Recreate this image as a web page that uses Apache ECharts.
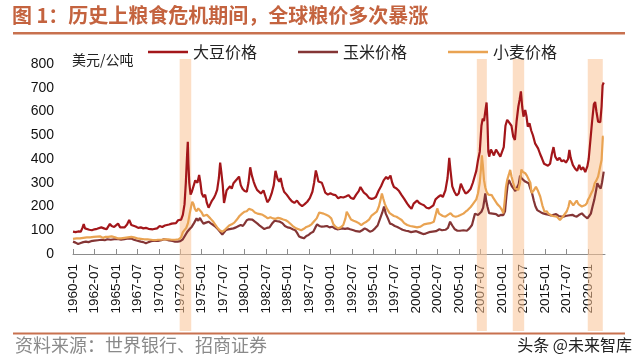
<!DOCTYPE html>
<html>
<head>
<meta charset="utf-8">
<script src="https://cdn.jsdelivr.net/npm/echarts@6/dist/echarts.min.js"></script>
<style>
html,body{margin:0;padding:0;background:#fff;}
#c{width:640px;height:364px;}
</style>
</head>
<body>
<div id="c"></div>
<script>
// ---- data (x = year as decimal, 1960.5 = 1960-07) ----
const seriesNames = ['大豆价格', '玉米价格', '小麦价格'];
const xTickLabels = ['1960-01','1962-07','1965-01','1967-07','1970-01','1972-07','1975-01','1977-07','1980-01','1982-07','1985-01','1987-07','1990-01','1992-07','1995-01','1997-07','2000-01','2002-07','2005-01','2007-07','2010-01','2012-07','2015-01','2017-07','2020-01'];
const yTicks = [0,100,200,300,400,500,600,700,800];
const crisisBands = [[1972.43,1973.78],[2007.06,2008.23],[2011.25,2012.58],[2019.99,2021.74]];

const soybean = [[1960.0,94],[1960.3,92],[1960.6,95],[1960.9,94],[1961.1,110],[1961.25,126],[1961.4,108],[1961.6,100],[1961.9,102],[1962.2,100],[1962.5,104],[1962.8,106],[1963.0,104],[1963.3,112],[1963.6,108],[1963.9,104],[1964.1,112],[1964.3,127],[1964.5,118],[1964.8,114],[1965.0,116],[1965.25,128],[1965.5,112],[1965.7,104],[1966.0,112],[1966.3,124],[1966.55,143],[1966.8,122],[1967.0,118],[1967.3,116],[1967.6,110],[1967.9,112],[1968.2,108],[1968.5,110],[1968.8,106],[1969.0,110],[1969.3,104],[1969.5,100],[1969.8,108],[1970.1,118],[1970.4,114],[1970.7,120],[1970.9,126],[1971.2,124],[1971.5,128],[1971.7,124],[1972.0,130],[1972.25,142],[1972.45,138],[1972.6,145],[1972.8,165],[1973.0,210],[1973.15,300],[1973.3,420],[1973.38,472],[1973.45,380],[1973.55,300],[1973.7,250],[1973.85,262],[1974.0,270],[1974.25,310],[1974.5,300],[1974.7,333],[1974.85,300],[1975.0,256],[1975.2,240],[1975.4,250],[1975.6,215],[1975.8,195],[1976.0,210],[1976.2,225],[1976.4,235],[1976.6,250],[1976.8,270],[1977.0,320],[1977.15,385],[1977.3,340],[1977.45,290],[1977.6,215],[1977.75,240],[1977.9,268],[1978.1,275],[1978.3,285],[1978.5,275],[1978.7,298],[1978.9,290],[1979.1,315],[1979.35,326],[1979.55,290],[1979.75,275],[1980.0,265],[1980.25,262],[1980.45,300],[1980.65,365],[1980.85,330],[1981.05,305],[1981.25,285],[1981.45,270],[1981.65,262],[1981.9,255],[1982.2,268],[1982.45,240],[1982.65,218],[1982.9,230],[1983.15,255],[1983.4,290],[1983.6,350],[1983.85,315],[1984.05,305],[1984.2,320],[1984.4,285],[1984.6,262],[1984.9,250],[1985.2,235],[1985.5,222],[1985.8,215],[1986.1,225],[1986.4,210],[1986.7,202],[1987.0,210],[1987.3,220],[1987.6,235],[1987.9,262],[1988.1,300],[1988.3,352],[1988.45,330],[1988.6,305],[1988.8,310],[1989.0,300],[1989.2,280],[1989.4,258],[1989.7,250],[1990.0,256],[1990.3,250],[1990.6,248],[1990.9,235],[1991.2,240],[1991.5,238],[1991.8,242],[1992.1,248],[1992.4,236],[1992.7,232],[1993.0,250],[1993.3,265],[1993.5,282],[1993.7,270],[1993.9,258],[1994.2,250],[1994.5,236],[1994.8,232],[1995.05,234],[1995.3,240],[1995.6,265],[1995.9,285],[1996.2,310],[1996.5,325],[1996.7,315],[1997.0,330],[1997.2,300],[1997.4,282],[1997.7,276],[1998.0,265],[1998.3,248],[1998.6,232],[1998.95,212],[1999.2,200],[1999.45,190],[1999.7,212],[2000.1,225],[2000.35,215],[2000.6,210],[2000.9,205],[2001.2,195],[2001.5,192],[2001.7,200],[2002.0,205],[2002.25,230],[2002.55,240],[2002.85,248],[2003.1,240],[2003.4,268],[2003.65,320],[2003.85,405],[2004.0,350],[2004.2,285],[2004.45,262],[2004.7,246],[2004.95,255],[2005.2,296],[2005.45,275],[2005.75,255],[2006.0,260],[2006.35,275],[2006.6,300],[2006.8,325],[2007.0,350],[2007.2,395],[2007.4,430],[2007.6,540],[2007.75,570],[2007.9,560],[2008.05,600],[2008.2,638],[2008.3,560],[2008.4,430],[2008.5,410],[2008.7,440],[2008.85,430],[2009.05,415],[2009.3,440],[2009.55,425],[2009.8,410],[2010.0,412],[2010.2,450],[2010.4,540],[2010.6,565],[2010.8,555],[2010.95,560],[2011.1,540],[2011.3,495],[2011.5,480],[2011.7,560],[2011.9,620],[2012.05,650],[2012.2,685],[2012.35,620],[2012.5,578],[2012.7,606],[2012.85,580],[2013.0,536],[2013.2,550],[2013.4,520],[2013.6,500],[2013.85,466],[2014.0,470],[2014.2,445],[2014.45,420],[2014.65,403],[2014.9,380],[2015.1,385],[2015.35,372],[2015.6,380],[2015.8,420],[2016.0,450],[2016.2,410],[2016.45,395],[2016.7,405],[2016.95,390],[2017.2,395],[2017.45,385],[2017.7,400],[2017.85,438],[2018.0,405],[2018.25,375],[2018.5,360],[2018.75,350],[2019.0,375],[2019.2,355],[2019.45,365],[2019.7,345],[2019.95,370],[2020.1,400],[2020.3,480],[2020.5,560],[2020.7,630],[2020.85,640],[2021.0,600],[2021.2,557],[2021.45,555],[2021.6,620],[2021.72,710],[2021.85,722]];

const maize = [[1960.0,52],[1960.3,48],[1960.6,42],[1960.9,46],[1961.2,50],[1961.5,52],[1961.8,50],[1962.1,54],[1962.5,56],[1962.9,58],[1963.3,60],[1963.7,58],[1964.0,62],[1964.4,60],[1964.8,62],[1965.2,63],[1965.6,60],[1966.0,62],[1966.4,66],[1966.8,65],[1967.1,60],[1967.5,56],[1967.9,52],[1968.2,50],[1968.5,45],[1968.8,50],[1969.1,54],[1969.5,56],[1969.9,55],[1970.3,58],[1970.6,62],[1970.9,60],[1971.2,57],[1971.6,55],[1971.9,52],[1972.2,52],[1972.5,54],[1972.8,62],[1973.1,80],[1973.35,95],[1973.6,105],[1973.85,115],[1974.1,130],[1974.4,150],[1974.6,140],[1974.8,152],[1975.0,138],[1975.2,128],[1975.5,132],[1975.8,136],[1976.1,128],[1976.35,122],[1976.6,115],[1976.9,104],[1977.1,100],[1977.4,82],[1977.6,90],[1977.8,100],[1978.1,104],[1978.4,106],[1978.7,108],[1979.0,112],[1979.3,118],[1979.55,122],[1979.8,118],[1980.0,128],[1980.25,142],[1980.5,146],[1980.7,152],[1980.9,145],[1981.2,136],[1981.5,128],[1981.8,118],[1982.0,112],[1982.3,105],[1982.6,110],[1982.9,112],[1983.2,128],[1983.5,140],[1983.8,138],[1984.1,136],[1984.4,130],[1984.7,118],[1985.0,112],[1985.3,110],[1985.6,104],[1985.9,100],[1986.1,90],[1986.35,74],[1986.6,70],[1986.9,66],[1987.2,76],[1987.45,80],[1987.7,88],[1988.0,94],[1988.25,112],[1988.45,125],[1988.7,118],[1989.0,115],[1989.3,116],[1989.6,118],[1989.9,112],[1990.2,115],[1990.5,108],[1990.8,104],[1991.1,106],[1991.4,108],[1991.7,106],[1992.0,108],[1992.3,104],[1992.7,100],[1993.0,96],[1993.4,94],[1993.7,100],[1994.0,108],[1994.3,102],[1994.6,94],[1994.9,98],[1995.2,108],[1995.5,120],[1995.8,150],[1996.05,175],[1996.25,200],[1996.45,170],[1996.7,150],[1996.95,128],[1997.2,125],[1997.5,118],[1997.8,114],[1998.1,108],[1998.4,102],[1998.8,98],[1999.1,96],[1999.4,92],[1999.7,94],[2000.0,96],[2000.4,90],[2000.8,84],[2001.1,86],[2001.5,92],[2001.9,94],[2002.3,96],[2002.7,104],[2003.0,100],[2003.4,102],[2003.7,110],[2003.95,136],[2004.2,120],[2004.5,104],[2004.8,98],[2005.1,98],[2005.5,100],[2005.9,98],[2006.2,108],[2006.5,122],[2006.7,150],[2006.85,170],[2007.0,165],[2007.2,164],[2007.4,172],[2007.6,178],[2007.8,195],[2007.95,230],[2008.05,255],[2008.15,225],[2008.3,200],[2008.5,172],[2008.7,164],[2008.9,170],[2009.1,175],[2009.3,168],[2009.6,160],[2009.9,165],[2010.15,164],[2010.35,180],[2010.5,240],[2010.65,290],[2010.8,312],[2010.95,300],[2011.15,285],[2011.35,276],[2011.55,265],[2011.75,262],[2011.95,295],[2012.1,330],[2012.3,318],[2012.5,311],[2012.7,305],[2012.9,300],[2013.1,298],[2013.3,275],[2013.5,256],[2013.7,225],[2013.9,200],[2014.1,185],[2014.3,178],[2014.55,175],[2014.8,171],[2015.1,168],[2015.4,165],[2015.7,162],[2016.0,165],[2016.3,168],[2016.6,160],[2016.9,158],[2017.15,157],[2017.4,160],[2017.7,162],[2017.9,164],[2018.2,165],[2018.45,160],[2018.7,157],[2018.95,164],[2019.3,171],[2019.6,160],[2019.8,155],[2019.95,150],[2020.15,160],[2020.35,170],[2020.55,200],[2020.75,228],[2020.95,265],[2021.1,298],[2021.3,285],[2021.5,276],[2021.65,300],[2021.85,347]];

const wheat = [[1960.0,64],[1960.4,66],[1960.8,66],[1961.2,68],[1961.6,70],[1962.0,70],[1962.4,72],[1962.8,73],[1963.2,74],[1963.5,68],[1963.8,72],[1964.1,72],[1964.5,74],[1964.9,70],[1965.2,66],[1965.6,66],[1966.0,68],[1966.4,70],[1966.8,72],[1967.1,70],[1967.5,66],[1967.9,64],[1968.3,62],[1968.7,62],[1969.1,60],[1969.5,58],[1969.9,60],[1970.3,60],[1970.7,62],[1971.1,62],[1971.5,60],[1971.9,60],[1972.3,62],[1972.6,70],[1972.8,92],[1973.0,100],[1973.2,110],[1973.4,130],[1973.6,170],[1973.8,205],[1973.9,220],[1974.05,210],[1974.2,190],[1974.4,180],[1974.6,192],[1974.8,200],[1975.0,175],[1975.2,160],[1975.4,158],[1975.6,165],[1975.8,160],[1976.0,150],[1976.3,138],[1976.55,125],[1976.8,112],[1977.1,100],[1977.4,94],[1977.7,102],[1977.9,110],[1978.2,120],[1978.5,125],[1978.8,132],[1979.1,145],[1979.4,160],[1979.7,170],[1980.0,178],[1980.25,180],[1980.5,190],[1980.7,195],[1980.9,185],[1981.2,175],[1981.5,170],[1981.8,168],[1982.1,165],[1982.4,158],[1982.7,150],[1983.0,155],[1983.3,150],[1983.6,148],[1983.9,152],[1984.15,150],[1984.5,145],[1984.8,142],[1985.1,135],[1985.4,125],[1985.7,115],[1986.0,108],[1986.3,104],[1986.6,100],[1986.9,106],[1987.2,114],[1987.5,118],[1987.8,125],[1988.1,138],[1988.4,150],[1988.7,175],[1988.9,178],[1989.2,170],[1989.5,165],[1989.8,160],[1990.1,150],[1990.35,125],[1990.6,115],[1990.9,108],[1991.2,112],[1991.5,122],[1991.75,150],[1991.9,178],[1992.1,165],[1992.4,145],[1992.7,140],[1993.0,136],[1993.3,130],[1993.6,122],[1993.9,130],[1994.2,136],[1994.5,145],[1994.8,162],[1995.1,170],[1995.4,178],[1995.65,200],[1995.85,230],[1996.0,255],[1996.15,235],[1996.35,210],[1996.6,190],[1996.9,172],[1997.1,164],[1997.4,160],[1997.7,157],[1998.0,150],[1998.3,143],[1998.6,130],[1998.95,122],[1999.3,118],[1999.7,115],[2000.1,112],[2000.5,115],[2000.9,125],[2001.3,128],[2001.7,130],[2002.05,136],[2002.3,170],[2002.45,192],[2002.65,170],[2002.85,164],[2003.1,160],[2003.4,157],[2003.7,165],[2004.0,172],[2004.3,160],[2004.6,157],[2004.9,160],[2005.15,164],[2005.5,170],[2005.75,178],[2006.0,185],[2006.35,198],[2006.6,210],[2006.8,215],[2007.0,230],[2007.2,256],[2007.4,300],[2007.55,360],[2007.65,415],[2007.75,380],[2007.9,311],[2008.05,280],[2008.2,262],[2008.4,250],[2008.6,242],[2008.8,248],[2009.0,235],[2009.2,227],[2009.45,210],[2009.75,199],[2010.0,185],[2010.15,171],[2010.3,220],[2010.45,280],[2010.6,311],[2010.8,335],[2010.95,354],[2011.1,326],[2011.3,300],[2011.5,276],[2011.7,268],[2011.9,270],[2012.1,300],[2012.25,355],[2012.45,345],[2012.7,340],[2012.9,330],[2013.1,326],[2013.3,300],[2013.45,256],[2013.7,268],[2013.95,283],[2014.2,265],[2014.45,242],[2014.7,205],[2014.95,178],[2015.2,180],[2015.4,170],[2015.6,164],[2015.9,160],[2016.1,165],[2016.4,157],[2016.6,150],[2016.75,143],[2016.95,150],[2017.15,160],[2017.35,164],[2017.55,180],[2017.75,200],[2017.9,225],[2018.1,215],[2018.3,205],[2018.5,199],[2018.7,225],[2018.9,210],[2019.1,213],[2019.3,200],[2019.5,195],[2019.7,206],[2019.9,215],[2020.0,227],[2020.2,240],[2020.4,256],[2020.6,270],[2020.8,298],[2021.0,310],[2021.2,326],[2021.4,320],[2021.6,396],[2021.75,494],[2021.85,495]];

// ---- helpers ----
function labelToYear(s){ const p = s.split('-'); return +p[0] + (+p[1]-1)/12; }
const tickYears = xTickLabels.map(labelToYear);
function yearToLabel(v){
  let best = 0, d = 1e9;
  tickYears.forEach((t,i)=>{ if(Math.abs(t-v)<d){d=Math.abs(t-v);best=i;} });
  return xTickLabels[best];
}
const colors = ['#A3161A', '#843535', '#E9A352'];
const X_MIN = 1960, X_MAX = 2022;

const chart = echarts.init(document.getElementById('c'), null, {renderer:'canvas'});
const option = {
  animation: false,
  backgroundColor: '#fff',
  color: colors,
  textStyle: {fontFamily: 'Liberation Sans, Arial, sans-serif'},
  legend: {
    data: seriesNames,
    left: 143, top: 39,
    icon: 'rect', itemWidth: 40, itemHeight: 2.5, itemGap: 41,
    textStyle: {fontFamily: 'Noto Sans CJK SC', fontSize: 16, color: '#222'}
  },
  grid: [
    {left: 73, right: 35, top: 64, bottom: 110},
    {left: 73, right: 35, top: 59, bottom: 33}
  ],
  xAxis: [
    {
      type: 'value', gridIndex: 0, min: X_MIN, max: X_MAX, interval: 2.5,
      axisLine: {show: true, lineStyle: {color: '#8c8c8c', width: 1}},
      axisTick: {show: true, inside: true, length: 5, lineStyle: {color: '#8c8c8c'}, customValues: tickYears},
      axisLabel: {rotate: 90, fontSize: 13.5, color: '#111', margin: 10, customValues: tickYears,
        formatter: v => yearToLabel(v), fontFamily: 'Liberation Sans, Arial, sans-serif'},
      splitLine: {show: false}
    },
    {type: 'value', gridIndex: 1, min: X_MIN, max: X_MAX, show: false}
  ],
  yAxis: [
    {
      type: 'value', gridIndex: 0, min: 0, max: 800, interval: 100,
      axisLine: {show: false}, axisTick: {show: false}, splitLine: {show: false},
      axisLabel: {fontSize: 14, color: '#111', margin: 19, customValues: yTicks}
    },
    {type: 'value', gridIndex: 1, min: 0, max: 1, show: false}
  ],
  series: [
    {name: seriesNames[0], type: 'line', data: soybean, showSymbol: false, lineStyle: {width: 2.2}, z: 3},
    {name: seriesNames[1], type: 'line', data: maize, showSymbol: false, lineStyle: {width: 2.2}, z: 2},
    {name: seriesNames[2], type: 'line', data: wheat, showSymbol: false, lineStyle: {width: 2.2}, z: 2},
    {
      name: 'bands', type: 'line', xAxisIndex: 1, yAxisIndex: 1, data: [], z: 10,
      markArea: {
        silent: true,
        itemStyle: {color: 'rgba(250,195,150,0.55)'},
        data: crisisBands.map(b => [{xAxis: b[0], yAxis: 0}, {xAxis: b[1], yAxis: 1}])
      }
    }
  ],
  graphic: [
    {type: 'text', left: 12, top: 5, style: {text: '图 1：历史上粮食危机期间，全球粮价多次暴涨', fontFamily: 'Noto Sans CJK SC', fontWeight: 'bold', fontSize: 20, fill: '#C4633F'}},
    {type: 'rect', shape: {x: 13, y: 32, width: 612, height: 2.5}, style: {fill: '#C8714F'}},
    {type: 'text', left: 72, top: 53, style: {text: '美元/公吨', fontFamily: 'Noto Sans CJK SC', fontSize: 14, fill: '#222'}},
    {type: 'rect', shape: {x: 13, y: 332.5, width: 612, height: 2}, style: {fill: '#C8714F'}},
    {type: 'text', left: 15, top: 336, style: {text: '资料来源：世界银行、招商证券', fontFamily: 'Noto Sans CJK SC', fontSize: 18, fill: '#8a8a8a'}},
    {type: 'text', right: 8, top: 337, style: {text: '头条 @未来智库', fontFamily: 'Noto Sans CJK SC', fontSize: 16, fill: '#222'}}
  ]
};
chart.setOption(option);
</script>
</body>
</html>
